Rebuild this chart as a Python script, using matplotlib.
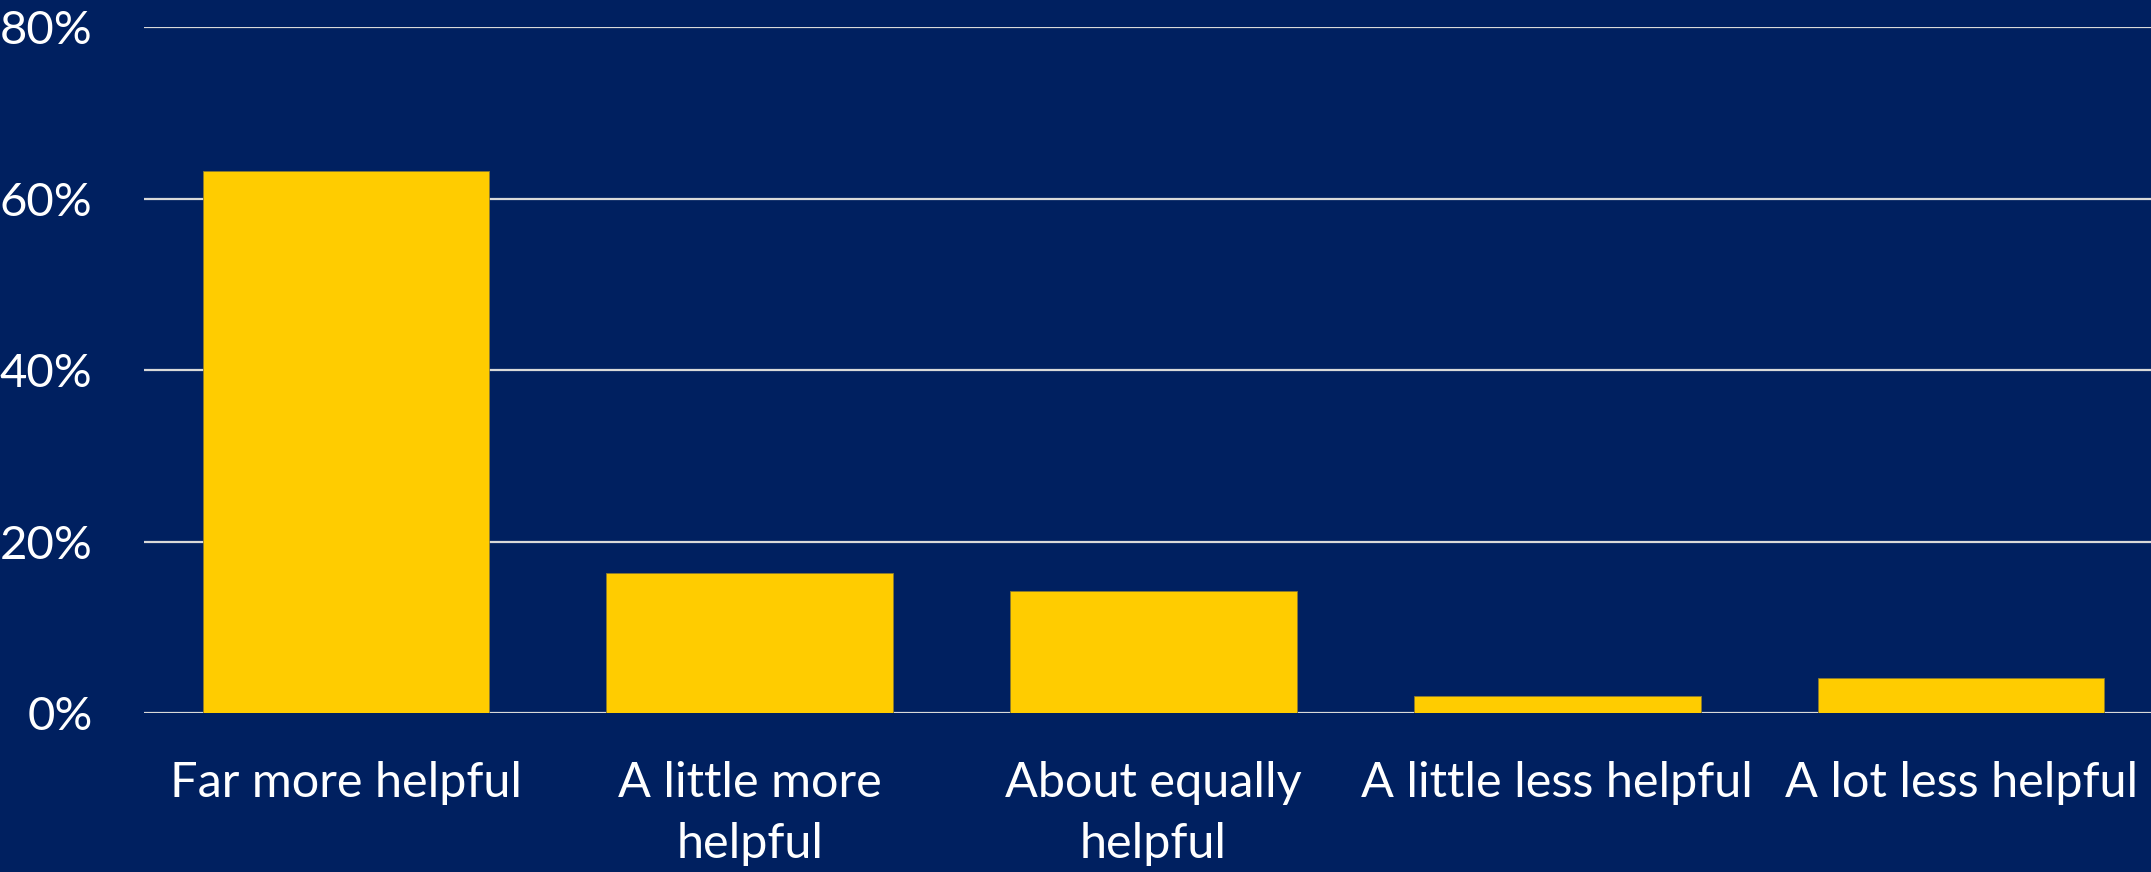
import matplotlib
matplotlib.use("Agg")
import matplotlib.pyplot as plt
from matplotlib.ticker import FuncFormatter

categories = ["Far more helpful", "A little more\nhelpful", "About equally\nhelpful",
              "A little less helpful", "A lot less helpful"]
values = [63.25, 16.3, 14.25, 2.0, 4.1]
yticks = [0, 20, 40, 60, 80]

BG = "#002060"
BAR = "#FFCC00"
GRID = "#D9D9D9"

plt.rcParams['font.family'] = ['Lato', 'DejaVu Sans']

W, H = 2151, 872
fig = plt.figure(figsize=(W/100, H/100), dpi=100, facecolor=BG)
left = 144 / W
right = 2163 / W
bottom = (H - 713.3) / H
top = (H - 27) / H
ax = fig.add_axes([left, bottom, right - left, top - bottom], facecolor=BG)

x = list(range(len(categories)))
ax.bar(x, values, width=0.71, color=BAR, zorder=3, edgecolor="#8a7a30", linewidth=0.6)
ax.set_xlim(-0.5, len(categories) - 0.5)
ax.set_ylim(0, 80)
ax.set_yticks(yticks)
ax.yaxis.set_major_formatter(FuncFormatter(lambda v, p: f"{v:.0f}%"))
ax.yaxis.grid(True, color=GRID, linewidth=1.6, zorder=0)
ax.set_axisbelow(True)
ax.set_xticks(x)
ax.set_xticklabels(categories, linespacing=1.48)
for s in ax.spines.values():
    s.set_visible(False)
ax.tick_params(axis='both', length=0, colors='white')
ax.tick_params(axis='y', pad=37, labelsize=34)
ax.tick_params(axis='x', pad=34, labelsize=35)
for lab in ax.get_xticklabels():
    lab.set_horizontalalignment('center')

fig.savefig("out.png", dpi=100, facecolor=BG)
